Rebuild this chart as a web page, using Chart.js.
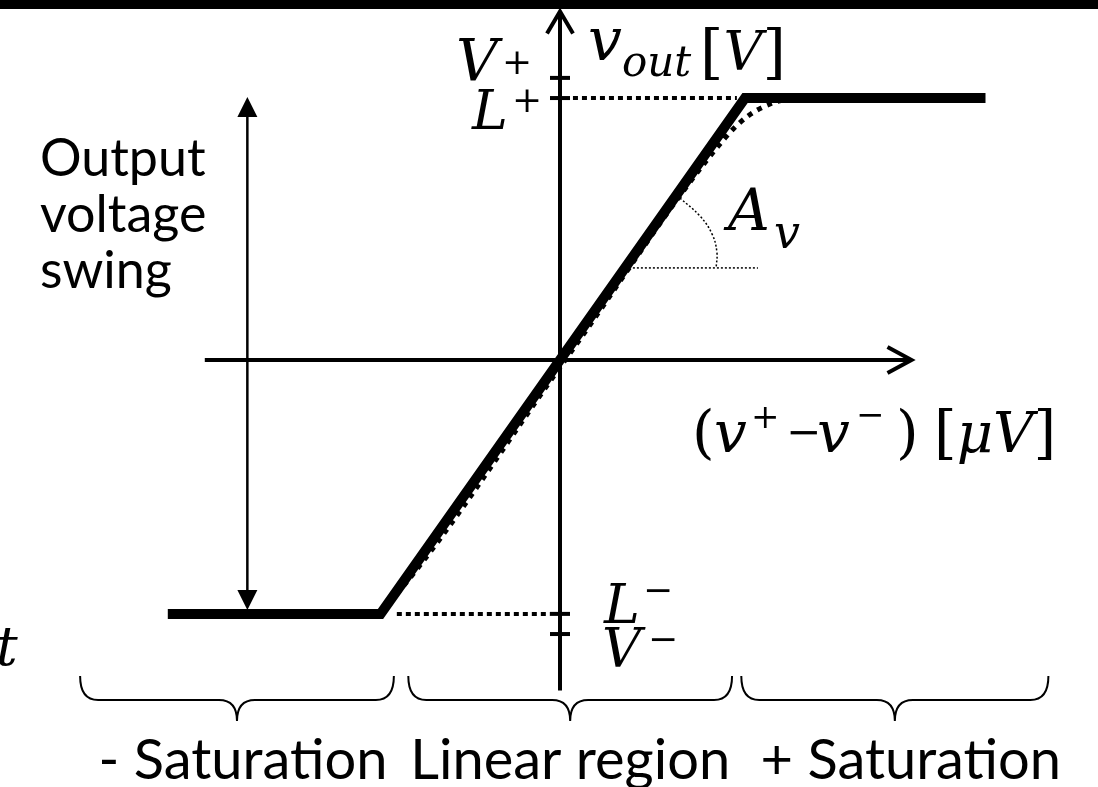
<!DOCTYPE html>
<html>
<head>
<meta charset="utf-8">
<script src="https://cdn.jsdelivr.net/npm/chart.js@4"></script>
<style>
  html, body { margin: 0; padding: 0; background: #fff; }
  canvas { display: block; }
</style>
</head>
<body>
<canvas id="transfer" width="1098" height="787"></canvas>
<script>
// Op-amp transfer characteristic: v_out against (v+ - v-)

// supply rails and output limits [V]
const railNames = ["V+", "L+", "L-", "V-"];
const railValues = [14, 13, -12.6, -13.6];

// ideal piecewise-linear response, x in µV, y in V
const idealX = [-10.6, -4.85, 5, 11.5];
const idealY = [-12.6, -12.6, 13, 13];

// real (rounded) response near the knees
const realX = [-5.41, -4.86, -4.46, 0.14, 4.46, 5.08, 5.81, 6.22];
const realY = [-12.6, -12.41, -11.71, 0, 11.02, 12.11, 12.8, 12.95];

// dotted guides from the knees back to the vertical axis
const guideLowX = [-4.41, -0.27];
const guideLowY = [-12.6, -12.6];
const guideHighX = [0.35, 4.78];
const guideHighY = [13, 13];

// gain angle marker
const angleBaseX = [1.97, 5.35];
const angleBaseY = [4.57, 4.57];
const angleArcX = [3.24, 3.78, 4.11, 4.24, 4.22];
const angleArcY = [8.04, 7.15, 6.25, 5.36, 4.57];

// axis extents
const xAxisSpan = [-9.6, 9.5];
const yAxisSpan = [-16.4, 17.3];

// operating regions along the input axis [µV]
const regionNames = ["- Saturation", "Linear region", "+ Saturation"];
const regionFrom = [-12.97, -4.1, 4.9];
const regionTo = [-4.49, 4.65, 13.2];
const regionNameShift = [6, 0, 16];

const swingX = -8.45;

const W = 1098, H = 787;
const ORIGIN_X = 560, ORIGIN_Y = 360;
const PX_PER_UV = 37, PX_PER_V = 20.15;

const SANS = '"Lato", "Open Sans", sans-serif';
const SERIF = '"DejaVu Serif", serif';

function pts(xs, ys) {
  return xs.map((x, i) => ({ x, y: ys[i] }));
}

function line(data, width, extra) {
  return Object.assign({
    data,
    showLine: true,
    borderColor: "#000",
    backgroundColor: "#000",
    borderWidth: width,
    pointRadius: 0,
    borderCapStyle: "butt",
  }, extra || {});
}

// draws a row of text pieces; a piece may pin its own x
function drawRuns(ctx, x, y, runs) {
  runs.forEach((r) => {
    if (r.x !== undefined) x = r.x;
    ctx.font = r.font;
    ctx.fillText(r.t, x, r.y !== undefined ? r.y : y);
    x += ctx.measureText(r.t).width + (r.gap || 0);
  });
}

function brace(ctx, x1, x2, top) {
  const mid = top + 24, tipY = top + 45, r = 18;
  const tip = (x1 + x2) / 2;
  ctx.beginPath();
  ctx.moveTo(x1, top);
  ctx.quadraticCurveTo(x1, mid, x1 + r, mid);
  ctx.lineTo(tip - r, mid);
  ctx.quadraticCurveTo(tip, mid, tip, tipY);
  ctx.quadraticCurveTo(tip, mid, tip + r, mid);
  ctx.lineTo(x2 - r, mid);
  ctx.quadraticCurveTo(x2, mid, x2, top);
  ctx.stroke();
}

const it = (px) => "italic " + px + "px " + SERIF;
const up = (px) => px + "px " + SERIF;

const decorations = {
  id: "decorations",
  beforeDraw(chart) {
    const ctx = chart.ctx;
    ctx.save();
    ctx.fillStyle = "#000";
    ctx.fillRect(0, 0, W, 9);
    ctx.restore();
  },
  afterDatasetsDraw(chart) {
    const { ctx, scales: { x, y } } = chart;
    const x0 = x.getPixelForValue(0), y0 = y.getPixelForValue(0);
    ctx.save();
    ctx.strokeStyle = "#000";
    ctx.fillStyle = "#000";
    ctx.lineJoin = "miter";

    // open arrowheads on the axes
    ctx.lineWidth = 4;
    const xt = x.getPixelForValue(xAxisSpan[1]);
    ctx.beginPath();
    ctx.moveTo(xt - 24, y0 - 13);
    ctx.lineTo(xt, y0);
    ctx.lineTo(xt - 24, y0 + 13);
    ctx.stroke();
    const yt = y.getPixelForValue(yAxisSpan[1]);
    ctx.beginPath();
    ctx.moveTo(x0 - 13, yt + 22);
    ctx.lineTo(x0, yt);
    ctx.lineTo(x0 + 13, yt + 22);
    ctx.stroke();

    // rail ticks on the vertical axis
    railValues.forEach((v) => {
      const py = y.getPixelForValue(v);
      ctx.fillRect(x0 - 10, py - 2, 20, 4);
    });

    // output swing double arrow
    const sx = x.getPixelForValue(swingX);
    const top = y.getPixelForValue(railValues[1]) - 1;
    const bot = y.getPixelForValue(railValues[2]) - 4;
    ctx.lineWidth = 2.5;
    ctx.beginPath();
    ctx.moveTo(sx, top + 18);
    ctx.lineTo(sx, bot - 18);
    ctx.stroke();
    ctx.beginPath();
    ctx.moveTo(sx, top);
    ctx.lineTo(sx - 10, top + 20);
    ctx.lineTo(sx + 10, top + 20);
    ctx.closePath();
    ctx.fill();
    ctx.beginPath();
    ctx.moveTo(sx, bot);
    ctx.lineTo(sx - 10, bot - 20);
    ctx.lineTo(sx + 10, bot - 20);
    ctx.closePath();
    ctx.fill();

    // region braces and names
    ctx.lineWidth = 2;
    ctx.textAlign = "center";
    ctx.textBaseline = "alphabetic";
    ctx.font = "56px " + SANS;
    regionNames.forEach((name, i) => {
      const a = x.getPixelForValue(regionFrom[i]);
      const b = x.getPixelForValue(regionTo[i]);
      brace(ctx, a, b, 676);
      ctx.fillText(name, (a + b) / 2 + regionNameShift[i], 779);
    });

    // left caption
    ctx.textAlign = "left";
    ctx.font = "52px " + SANS;
    ["Output", "voltage", "swing"].forEach((s, i) => {
      ctx.fillText(s, 40, 176 + i * 56);
    });

    // axis names
    drawRuns(ctx, 588, 60, [
      { t: "v", font: it(60) },
      { t: "out", font: it(42), y: 76 },
      { t: "[", font: up(60), y: 72, x: 700 },
      { t: "V", font: it(54), y: 70 },
      { t: "]", font: up(60), y: 72 },
    ]);

    drawRuns(ctx, 692, 452, [
      { t: "(", font: up(58) },
      { t: "v", font: it(58), x: 714 },
      { t: "+", font: up(34), y: 428, x: 751 },
      { t: "−", font: up(42), y: 446, x: 786 },
      { t: "v", font: it(58), x: 817 },
      { t: "−", font: up(34), y: 426, x: 856 },
      { t: ")", font: up(58), x: 896 },
      { t: "[", font: up(58), x: 934 },
      { t: "μ", font: it(56) },
      { t: "V", font: it(56) },
      { t: "]", font: up(58) },
    ]);

    // rail labels beside the ticks
    const yV = y.getPixelForValue(railValues[0]);
    const yL = y.getPixelForValue(railValues[1]);
    drawRuns(ctx, 456, yV + 2, [
      { t: "V", font: it(58) },
      { t: "+", font: up(36), y: yV - 4, x: 502 },
    ]);
    drawRuns(ctx, 472, yL + 31, [
      { t: "L", font: it(54) },
      { t: "+", font: up(36), y: yL + 14, x: 512 },
    ]);

    const yLm = y.getPixelForValue(railValues[2]);
    const yVm = y.getPixelForValue(railValues[3]);
    drawRuns(ctx, 604, yLm + 9, [
      { t: "L", font: it(54) },
      { t: "−", font: up(36), y: yLm - 12, x: 643 },
    ]);
    drawRuns(ctx, 602, yVm + 33, [
      { t: "V", font: it(54) },
      { t: "−", font: up(36), y: yVm + 17, x: 648 },
    ]);

    // gain
    drawRuns(ctx, 728, 230, [
      { t: "A", font: it(58) },
      { t: "v", font: it(46), y: 248, x: 774 },
    ]);

    ctx.font = it(54);
    ctx.fillText("t", -4, 665);

    ctx.restore();
  },
};

new Chart(document.getElementById("transfer"), {
  type: "scatter",
  data: {
    datasets: [
      line(pts(idealX, idealY), 10, { order: 0, borderJoinStyle: "miter" }),
      line(pts(realX, realY), 5, { order: 1, borderDash: [5, 6], cubicInterpolationMode: "monotone" }),
      line(pts(guideLowX, guideLowY), 4, { order: 2, borderDash: [5, 4] }),
      line(pts(guideHighX, guideHighY), 4, { order: 2, borderDash: [5, 4] }),
      line(pts(angleBaseX, angleBaseY), 1.5, { order: 3, borderDash: [2, 2] }),
      line(pts(angleArcX, angleArcY), 1.5, { order: 3, borderDash: [2, 2], tension: 0.4 }),
      line([{ x: xAxisSpan[0], y: 0 }, { x: xAxisSpan[1], y: 0 }], 4, { order: 4 }),
      line([{ x: 0, y: yAxisSpan[0] }, { x: 0, y: yAxisSpan[1] }], 4, { order: 4 }),
    ],
  },
  options: {
    responsive: false,
    animation: false,
    devicePixelRatio: 1,
    events: [],
    layout: { padding: 0 },
    plugins: { legend: { display: false }, tooltip: { enabled: false } },
    scales: {
      x: {
        type: "linear",
        display: false,
        min: -ORIGIN_X / PX_PER_UV,
        max: (W - ORIGIN_X) / PX_PER_UV,
      },
      y: {
        type: "linear",
        display: false,
        min: -(H - ORIGIN_Y) / PX_PER_V,
        max: ORIGIN_Y / PX_PER_V,
      },
    },
  },
  plugins: [decorations],
});
</script>
</body>
</html>
